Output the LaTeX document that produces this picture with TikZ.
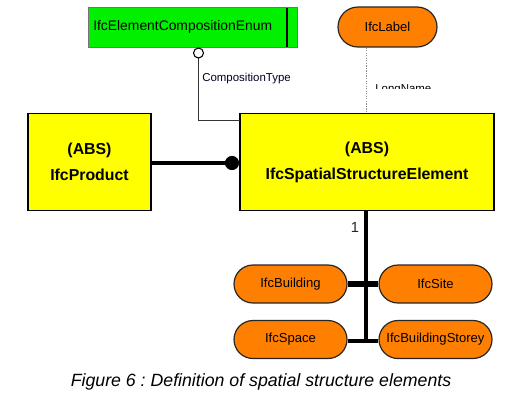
\documentclass[tikz,border=0pt]{standalone}
\usepackage{fontspec}
\setmainfont{Liberation Sans}
\usetikzlibrary{shapes.misc}
\frenchspacing
\definecolor{ygold}{RGB}{255,255,0}
\definecolor{pill}{RGB}{255,128,0}
\definecolor{enumgreen}{RGB}{0,240,0}
\tikzset{
  entity/.style={draw=black, line width=1.2pt, fill=ygold, inner sep=0pt, font=\fontsize{11.9}{15}\selectfont\bfseries, align=center},
  pillnode/.style={draw=black!85, line width=0.9pt, fill=pill, rounded rectangle, inner sep=0pt, font=\fontsize{9.8}{12}\selectfont},
  thick link/.style={line width=3.2pt, black},
  thin link/.style={line width=0.8pt, black!80},
}
\begin{document}
\begin{tikzpicture}[x=0.75pt,y=-0.75pt]
\useasboundingbox[fill=white] (0,0) rectangle (523,404);
% enum box
\node[draw=black!55, line width=0.6pt, fill=enumgreen, minimum width=209*0.75pt, minimum height=40*0.75pt, inner sep=0pt] (enum) at (192.5,27) {};
\node[anchor=west, font=\fontsize{10.4}{12}\selectfont, inner sep=0pt] (enumtxt) at (93,27) {IfcElementCompositionEnum};
\coordinate (enumbarT) at (287,7.5);
\coordinate (enumbarB) at (287,46.5);
\draw[line width=1.3pt] (enumbarT) -- (enumbarB);
% IfcLabel
\node[pillnode, minimum width=99*0.75pt, minimum height=40*0.75pt] (label) at (387.5,27) {IfcLabel};
% entities
\node[entity, minimum width=123*0.75pt, minimum height=97*0.75pt] (product) at (89.5,162) {(ABS)\\[4.5pt]IfcProduct};
\node[entity, minimum width=254*0.75pt, minimum height=97*0.75pt] (spatial) at (367,162) {(ABS)\\[4.5pt]IfcSpatialStructureElement};
% composition type link
\coordinate (ctcorner) at (198.5,120.5);
\coordinate (ctend) at (240,120.5);
\coordinate (ctcirc) at (198.5,53);
\draw[thin link] (ctcirc) -- (ctcorner) -- (ctend);
\node[circle, draw=black, line width=0.8pt, fill=white, minimum size=7.5pt, inner sep=0pt] (oc) at (ctcirc) {};
\node[anchor=west, font=\fontsize{8.6}{10}\selectfont, text=black!85!blue, inner sep=0pt] (ctlabel) at (202,79) {CompositionType};
% LongName link
\coordinate (lnbot) at (366.5,113);
\draw[line width=0.9pt, black!45, densely dotted] (label.south -| lnbot) -- (lnbot);
\begin{scope}
\clip (370,80) rectangle (460,88.3);
\node[anchor=north west, font=\fontsize{8.6}{10}\selectfont, inner sep=0pt] (ln) at (375,84.5) {LongName};
\end{scope}
% product - spatial
\coordinate (dot) at (232,163);
\draw[thick link] (product.east |- dot) -- (dot);
\fill (dot) circle (5.3pt);
% children
\node[pillnode, minimum width=113*0.75pt, minimum height=38*0.75pt] (bldg) at (290.5,284) {IfcBuilding};
\node[pillnode, minimum width=113*0.75pt, minimum height=38*0.75pt] (site) at (435.5,284) {IfcSite};
\node[pillnode, minimum width=113*0.75pt, minimum height=38*0.75pt] (space) at (290.5,339.5) {IfcSpace};
\node[pillnode, minimum width=113*0.75pt, minimum height=38*0.75pt] (storey) at (435.5,339.5) {IfcBuildingStorey};
\coordinate (trunkT) at (366,210);
\coordinate (trunkB) at (366,340.5);
\draw[line width=3pt] (trunkT) -- (trunkB);
\draw[line width=3.8pt] (bldg.east) -- (site.west);
\draw[line width=3pt] (space.east |- trunkB) -- (storey.west |- trunkB);
\node[font=\fontsize{11}{13}\selectfont, text=black!85, inner sep=0pt] (one) at (355,227) {1};
% caption
\node[font=\fontsize{13.3}{16}\selectfont\itshape, inner sep=0pt] (cap) at (261,381.5) {Figure 6 : Definition of spatial structure elements};
\end{tikzpicture}
\end{document}
